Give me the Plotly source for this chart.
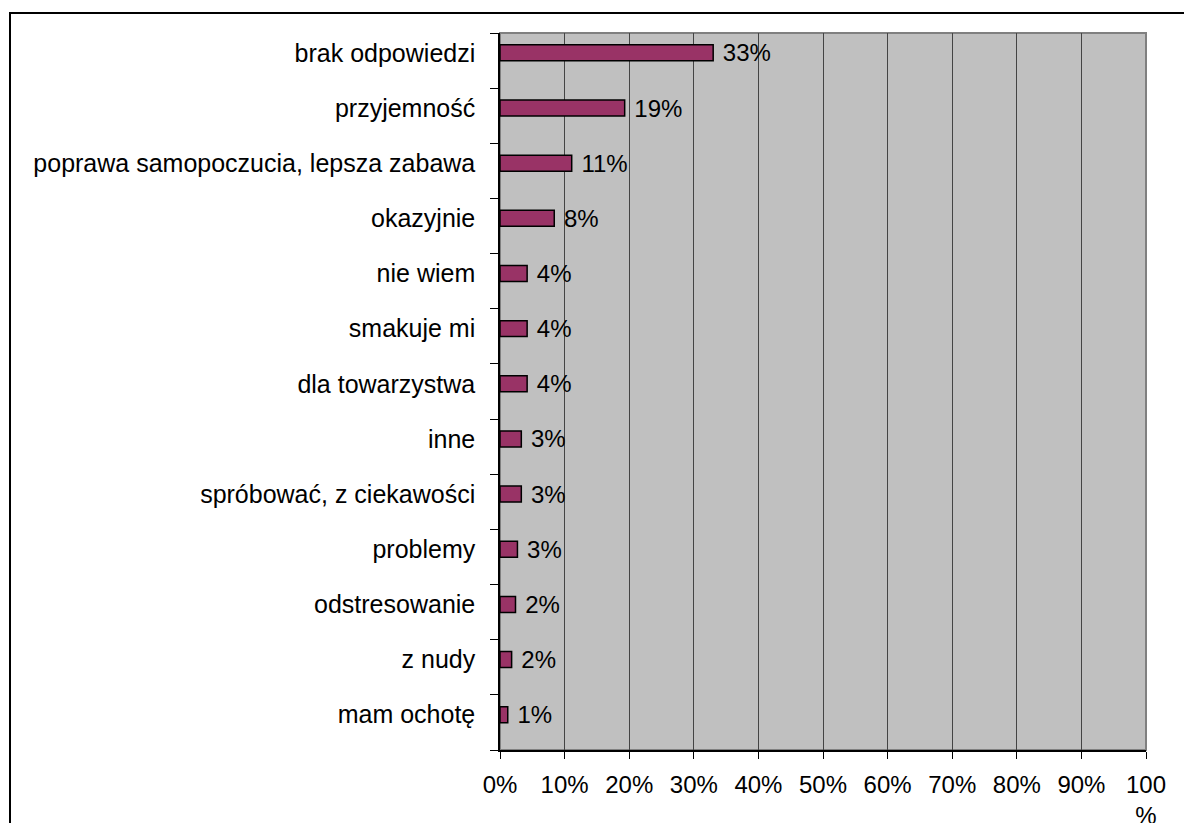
import plotly.graph_objects as go

# survey answers, top to bottom as in the chart
categories = [
    'brak odpowiedzi', 'przyjemność', 'poprawa samopoczucia, lepsza zabawa',
    'okazyjnie', 'nie wiem', 'smakuje mi', 'dla towarzystwa', 'inne',
    'spróbować, z ciekawości', 'problemy', 'odstresowanie', 'z nudy', 'mam ochotę',
]
values = [33.0, 19.3, 11.1, 8.4, 4.2, 4.2, 4.2, 3.3, 3.3, 2.7, 2.4, 1.8, 1.2]
labels = ['33%', '19%', '11%', '8%', '4%', '4%', '4%', '3%', '3%', '3%', '2%', '2%', '1%']
x_ticks = [0, 10, 20, 30, 40, 50, 60, 70, 80, 90, 100]
x_ticktext = ['0%', '10%', '20%', '30%', '40%', '50%', '60%', '70%', '80%', '90%', '100<br>%']

positions = list(range(len(categories)))

# figure geometry (body margin removed below, so figure fills the window)
W, H = 1184, 823
L, R, T, B = 500, 38, 33, 73
pw, ph = W - L - R, H - T - B


def px(x):
    return (x - L) / pw


def py(y):
    return 1 - (y - T) / ph


FONT = 'Arial, Liberation Sans, sans-serif'

fig = go.Figure()
fig.add_trace(go.Bar(
    x=values,
    y=positions,
    orientation='h',
    width=0.29,
    marker=dict(color='#993366', line=dict(color='black', width=1.5)),
    text=['\u00a0' + t for t in labels],
    textposition='outside',
    constraintext='none',
    textfont=dict(family=FONT, size=24, color='black'),
    cliponaxis=False,
    hoverinfo='skip',
))

fig.update_layout(
    width=W, height=H,
    margin=dict(l=L, r=R, t=T, b=B, pad=0, autoexpand=False),
    paper_bgcolor='white',
    plot_bgcolor='#C0C0C0',
    showlegend=False,
    font=dict(family=FONT, size=24, color='black'),
    xaxis=dict(
        range=[0, 100],
        tickvals=x_ticks,
        ticktext=x_ticktext,
        ticks='outside', ticklen=7, tickcolor='black', tickwidth=1,
        ticklabelstandoff=5,
        showgrid=True, gridcolor='#444444', gridwidth=1,
        showline=True, linecolor='black', linewidth=1.5,
        zeroline=False, automargin=False,
        tickfont=dict(size=24),
    ),
    yaxis=dict(
        range=[12.64, -0.36],
        tickvals=positions,
        ticktext=categories,
        ticks='outside', ticklen=0,
        minor=dict(tick0=-0.36, dtick=1, ticks='outside', ticklen=8,
                   tickcolor='black', tickwidth=1, showgrid=False),
        ticklabelstandoff=18,
        showgrid=False,
        showline=True, linecolor='black', linewidth=1.5,
        zeroline=False, automargin=False,
        tickfont=dict(size=25),
    ),
    shapes=[
        # gray frame of the plot area
        dict(type='rect', xref='paper', yref='paper', x0=0, x1=1, y0=0, y1=1,
             line=dict(color='#808080', width=2), layer='below'),
        # outer chart border (left and top edges visible)
        dict(type='path', xref='paper', yref='paper',
             path=f'M {px(10)},{py(900)} L {px(10)},{py(13)} L {px(1300)},{py(13)}',
             line=dict(color='black', width=2)),
    ],
)

fig.write_html("out.html", config={'displayModeBar': False},
               post_script="document.body.style.margin='0';")
